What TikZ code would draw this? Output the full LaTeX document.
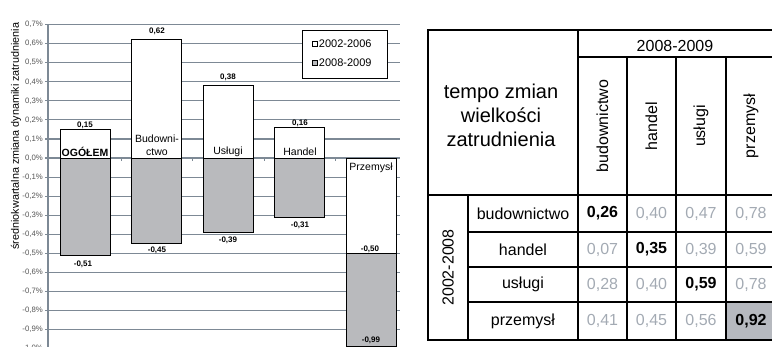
\documentclass[tikz,border=0pt]{standalone}
\usepackage{fontspec}
\setmainfont{Liberation Sans}
\usetikzlibrary{positioning}

\definecolor{gridcol}{HTML}{7D8995}
\definecolor{barcol}{HTML}{B9BABD}
\definecolor{labcol}{HTML}{555555}
\definecolor{valcol}{HTML}{A3AAB3}
\definecolor{cellcol}{HTML}{B6B9BF}

\tikzset{
  gridline/.style={draw=gridcol, line width=1.1pt},
  newbar/.style={draw=black, fill=white, line width=0.8pt},
  oldbar/.style={draw=black, fill=barcol, line width=0.8pt},
  barval/.style={font=\fontsize{8}{8}\selectfont\bfseries, inner sep=0pt},
  barname/.style={font=\fontsize{10.5}{13}\selectfont, inner sep=0pt, align=center},
  axislab/.style={font=\fontsize{7.8}{8}\selectfont, text=labcol, anchor=east, inner sep=0pt},
  legtext/.style={font=\fontsize{11}{11}\selectfont, inner sep=0pt},
  tabline/.style={line width=1.6pt},
  tabtext/.style={font=\fontsize{16}{16}\selectfont, inner sep=0pt},
  cellval/.style={font=\fontsize{16}{16}\selectfont, text=valcol, inner sep=0pt},
}

\begin{document}
\begin{tikzpicture}[x=1pt, y=-1pt]
    \useasboundingbox (0,0) rectangle (772,346);
    \clip (0,0) rectangle (772,346);

    % Gridlines, axis and bars (y in percent)
    \begin{scope}[yshift=-158pt, y=190.5pt]
        \foreach \v/\t [count=\k] in {0.7/{0,7},0.6/{0,6},0.5/{0,5},0.4/{0,4},0.3/{0,3},0.2/{0,2},0.1/{0,1},0/{0,0},-0.1/{-0,1},-0.2/{-0,2},-0.3/{-0,3},-0.4/{-0,4},-0.5/{-0,5},-0.6/{-0,6},-0.7/{-0,7},-0.8/{-0,8},-0.9/{-0,9},-1/{-1,0}} {
            \draw[gridline] (45,\v) -- (400,\v);
            \node[axislab] (ylab\k) at (43,\v) {\t\%};
        }
        \draw[gridline] (48,0.7) -- (48,-1.05);
        \foreach \x in {121,192,264,335}
            \draw[gridline, line width=0.8pt] (\x,0) -- (\x,-0.018);

        \foreach \a/\b [count=\i from 0] in {0.15/-0.51, 0.62/-0.45, 0.38/-0.39, 0.16/-0.31} {
            \draw[oldbar] ({60+71.5*\i},0) rectangle ++(50,\b);
            \draw[newbar] ({60+71.5*\i},0) rectangle ++(50,\a);
        }
        \draw[newbar] (346,0) rectangle (396,-0.50);
        \draw[oldbar] (346,-0.50) rectangle (396,-0.99);
    \end{scope}

    % Values at the bars
    \node[barval] (v1) at (85,125.5) {0,15};
    \node[barval] (v2) at (157,31) {0,62};
    \node[barval] (v3) at (228,77.5) {0,38};
    \node[barval] (v4) at (300,123.5) {0,16};
    \node[barval] (w1) at (83,264.5) {-0,51};
    \node[barval] (w2) at (157,250) {-0,45};
    \node[barval] (w3) at (228,240.5) {-0,39};
    \node[barval] (w4) at (300,225.5) {-0,31};
    \node[barval] (w5) at (370,249.5) {-0,50};
    \node[barval] (w6) at (371,340.5) {-0,99};

    % Category names inside the bars
    \node[barname, font=\fontsize{10.5}{13}\selectfont\bfseries] (c1) at (85,151.5) {OGÓŁEM};
    \node[barname] (c2) at (157,145.5) {Budowni-\\ctwo};
    \node[barname] (c3) at (228,151.5) {Usługi};
    \node[barname] (c4) at (300,151.5) {Handel};
    \node[barname] (c5) at (371,167.5) {Przemysł};

    % Legend
    \node[draw=black, fill=white, line width=0.8pt, minimum width=85pt, minimum height=48pt, inner sep=0pt] (legend) at (344.5,54) {};
    \node[draw=black, fill=white, line width=0.5pt, minimum size=5pt, inner sep=0pt] (key1) at (314.5,43.5) {};
    \node[legtext, right=1.5pt of key1] (leg1) {2002-2006};
    \node[draw=black, fill=barcol, line width=0.5pt, minimum size=5pt, inner sep=0pt] (key2) at (314.5,63) {};
    \node[legtext, right=1.5pt of key2] (leg2) {2008-2009};

    \node[rotate=90, font=\fontsize{10.8}{11}\selectfont, inner sep=0pt] (ytitle) at (16,136) {średniokwartalna zmiana dynamiki zatrudnienia};

    % Table (runs on past the right edge)
    \fill[cellcol] (726,302) rectangle (776,340);
    \draw[tabline] (776,30) -- (428,30) -- (428,340) -- (776,340);
    \draw[tabline] (578,30) -- (578,340);
    \draw[tabline] (578,57) -- (776,57);
    \draw[tabline] (428,195) -- (776,195);
    \draw[tabline] (468,195) -- (468,340);
    \foreach \x in {627,676,726}
        \draw[tabline] (\x,57) -- (\x,340);
    \foreach \y in {232,267,302}
        \draw[tabline] (468,\y) -- (776,\y);

    \node[font=\fontsize{20}{24}\selectfont, align=center, inner sep=0pt] (title) at (501,115) {tempo zmian\\wielkości\\zatrudnienia};
    \node[tabtext] (period2) at (675,46) {2008-2009};
    \node[tabtext, rotate=90] (period1) at (448,267.5) {2002-2008};
    \foreach \name/\x [count=\j] in {budownictwo/602.5, handel/651.5, usługi/701, przemysł/751}
        \node[tabtext, rotate=90] (col\j) at (\x,126) {\name};
    \foreach \name/\y/\a/\b/\c/\d [count=\i] in {budownictwo/213.5/26/40/47/78, handel/249.5/07/35/39/59, usługi/284.5/28/40/59/78, przemysł/321/41/45/56/92} {
        \node[tabtext] (row\i) at (523,\y) {\name};
        \foreach \v/\x [count=\j] in {\a/602.5,\b/651.5,\c/701,\d/751}
            \node[cellval] (val\i\j) at (\x,\y) {\ifnum\i=\j\relax\color{black}\bfseries\fi 0,\v};
    }
\end{tikzpicture}
\end{document}
